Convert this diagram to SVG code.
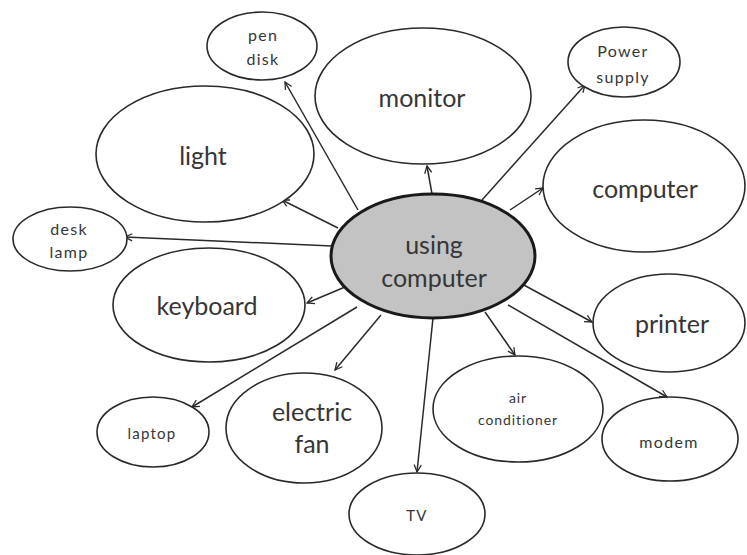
<svg xmlns="http://www.w3.org/2000/svg" width="747" height="555" viewBox="0 0 747 555">
  <defs>
    <marker id="arrow" viewBox="0 0 10 10" refX="9" refY="5" markerWidth="9" markerHeight="9" markerUnits="userSpaceOnUse" orient="auto">
      <path d="M1,1 L9,5 L1,9" fill="none" stroke="#2a2a2a" stroke-width="1.4"/>
    </marker>
  </defs>
  <style>
    .node ellipse { fill: #ffffff; stroke: #2a2a2a; stroke-width: 1.6; }
    #hub ellipse { fill: #c3c3c3; stroke: #1a1a1a; stroke-width: 3; }
    text { font-family: Lato, "Open Sans", "Liberation Sans", sans-serif; fill: #363636; text-anchor: middle; dominant-baseline: central; }
    .big { font-size: 25px; }
    .mid { font-size: 16px; letter-spacing: 1.3px; }
    .small { font-size: 15px; letter-spacing: 1.2px; }
    .tiny { font-size: 14px; letter-spacing: 0.9px; }
    .hub { font-size: 25px; }
    #connectors line { stroke: #2a2a2a; stroke-width: 1.5; marker-end: url(#arrow); }
  </style>
  <rect width="747" height="555" fill="#ffffff"/>

  <g id="connectors">
    <line x1="432" y1="194" x2="427" y2="166"/>
    <line x1="358" y1="210" x2="285" y2="82"/>
    <line x1="338" y1="228" x2="282" y2="200"/>
    <line x1="332" y1="246" x2="125" y2="237"/>
    <line x1="345" y1="287" x2="307" y2="303"/>
    <line x1="357" y1="307" x2="192" y2="407"/>
    <line x1="381" y1="315" x2="335" y2="370"/>
    <line x1="433" y1="318" x2="417" y2="472"/>
    <line x1="485" y1="312" x2="515" y2="355"/>
    <line x1="508" y1="305" x2="667" y2="397"/>
    <line x1="522" y1="284" x2="592" y2="322"/>
    <line x1="510" y1="210" x2="543" y2="188"/>
    <line x1="482" y1="200" x2="585" y2="85"/>
  </g>

  <g id="monitor" class="node">
    <ellipse cx="423" cy="96" rx="108" ry="68"/>
    <text class="big" x="422" y="97">monitor</text>
  </g>
  <g id="pen-disk" class="node">
    <ellipse cx="262" cy="46" rx="55" ry="34"/>
    <text class="mid" x="263" y="34">pen</text>
    <text class="mid" x="263" y="58">disk</text>
  </g>
  <g id="light" class="node">
    <ellipse cx="205" cy="154" rx="109" ry="68"/>
    <text class="big" x="203" y="155">light</text>
  </g>
  <g id="desk-lamp" class="node">
    <ellipse cx="70" cy="239" rx="57" ry="32"/>
    <text class="mid" x="69" y="228">desk</text>
    <text class="mid" x="69" y="251">lamp</text>
  </g>
  <g id="power-supply" class="node">
    <ellipse cx="624" cy="62" rx="56" ry="35"/>
    <text class="mid" x="623" y="50">Power</text>
    <text class="mid" x="623" y="76">supply</text>
  </g>
  <g id="computer" class="node">
    <ellipse cx="644" cy="186" rx="101" ry="66"/>
    <text class="big" x="645" y="188">computer</text>
  </g>
  <g id="keyboard" class="node">
    <ellipse cx="209" cy="305" rx="96" ry="57"/>
    <text class="big" x="207" y="305">keyboard</text>
  </g>
  <g id="printer" class="node">
    <ellipse cx="669" cy="323" rx="76" ry="49"/>
    <text class="big" x="672" y="323">printer</text>
  </g>
  <g id="laptop" class="node">
    <ellipse cx="153" cy="432" rx="56" ry="35"/>
    <text class="small" x="152" y="433">laptop</text>
  </g>
  <g id="electric-fan" class="node">
    <ellipse cx="304" cy="428" rx="78" ry="55"/>
    <text class="big" x="312" y="411">electric</text>
    <text class="big" x="312" y="443">fan</text>
  </g>
  <g id="tv" class="node">
    <ellipse cx="417" cy="514" rx="68" ry="41"/>
    <text class="small" x="417" y="515">TV</text>
  </g>
  <g id="air-conditioner" class="node">
    <ellipse cx="518" cy="409" rx="85" ry="53"/>
    <text class="tiny" x="518" y="397">air</text>
    <text class="tiny" x="518" y="419">conditioner</text>
  </g>
  <g id="modem" class="node">
    <ellipse cx="670" cy="439" rx="68" ry="42"/>
    <text class="mid" x="669" y="441">modem</text>
  </g>

  <g id="hub">
    <ellipse cx="433" cy="256" rx="102" ry="62"/>
    <text class="hub" x="434" y="244">using</text>
    <text class="hub" x="434" y="277">computer</text>
  </g>
</svg>
